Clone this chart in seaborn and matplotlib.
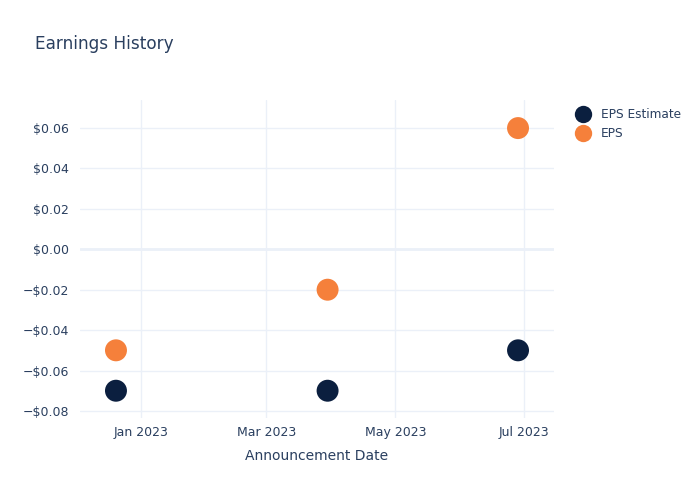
import matplotlib
matplotlib.use("Agg")
import matplotlib.pyplot as plt
import matplotlib.dates as mdates
from matplotlib.ticker import FuncFormatter, FixedLocator
import seaborn as sns
import pandas as pd
import numpy as np

dates = ["2022-12-20", "2023-03-30", "2023-06-28"]
eps_estimate = [-0.07, -0.07, -0.05]
eps_actual = [-0.05, -0.02, 0.06]
series_names = ["EPS Estimate", "EPS"]
colors = ["#0b1f3f", "#f5803b"]

df = pd.DataFrame({
    "date": pd.to_datetime(dates * 2),
    "value": eps_estimate + eps_actual,
    "series": [series_names[0]] * 3 + [series_names[1]] * 3,
})

sns.set_theme(style="white")
plt.rcParams['font.family'] = ['DejaVu Sans']
text_color = "#2a3f5f"

fig = plt.figure(figsize=(7, 5), dpi=100)
ax = fig.add_axes([80/700, 1-418/500, (554-80)/700, (418-100)/500])

sns.scatterplot(data=df, x="date", y="value", hue="series", palette=colors,
                hue_order=series_names, s=250, edgecolor="none", ax=ax,
                legend=True, zorder=3, clip_on=False)

ax.set_xlim(pd.Timestamp("2022-12-03"), pd.Timestamp("2023-07-15"))
ax.set_ylim(-0.0835, 0.0739)

yt = [-0.08, -0.06, -0.04, -0.02, 0.0, 0.02, 0.04, 0.06]
ax.yaxis.set_major_locator(FixedLocator(yt))
def fmt(v, pos):
    s = f"${abs(v):.2f}"
    return ("\u2212" + s) if v < -1e-9 else s
ax.yaxis.set_major_formatter(FuncFormatter(fmt))

xt = pd.to_datetime(["2023-01-01", "2023-03-01", "2023-05-01", "2023-07-01"])
ax.set_xticks(mdates.date2num(xt))
ax.set_xticklabels(["Jan 2023", "Mar 2023", "May 2023", "Jul 2023"])

ax.grid(True, color="#ebf0f8", linewidth=1)
ax.axhline(0, color="#ebf0f8", linewidth=2, zorder=1)
ax.set_axisbelow(True)
for sp in ax.spines.values():
    sp.set_visible(False)
ax.tick_params(axis="both", length=0, labelsize=9, colors=text_color, pad=6)
ax.tick_params(axis="y", pad=8)

ax.set_xlabel("Announcement Date", fontsize=10, color=text_color, labelpad=7)
ax.set_ylabel("")

fig.text(35/700, 1-44/500, "Earnings History", fontsize=12.2, color=text_color,
         va="center", ha="left")

leg = ax.legend(loc="upper left", bbox_to_anchor=(566/700, 1-103/500),
                bbox_transform=fig.transFigure, frameon=False, fontsize=8.7,
                labelcolor=text_color, handletextpad=0.5, borderaxespad=0,
                labelspacing=0.55, markerscale=1.0)
for h in leg.legend_handles:
    try:
        h.set_markersize(12.5)
    except AttributeError:
        h.set_sizes([160])

fig.savefig("out.png", dpi=100, facecolor="white")
